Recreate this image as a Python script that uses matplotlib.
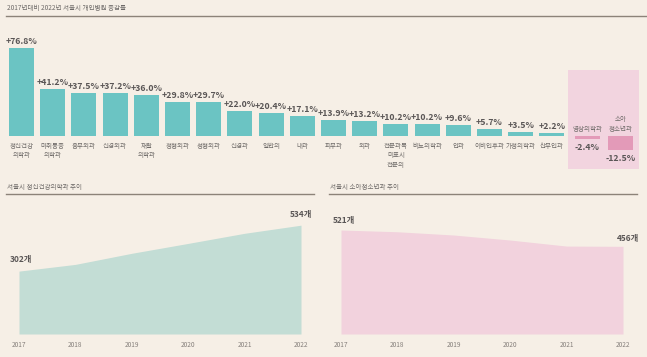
import numpy as np
import matplotlib
matplotlib.use("Agg")
import matplotlib.pyplot as plt
from matplotlib.patches import Rectangle

plt.rcParams['font.family'] = ['Noto Sans CJK KR', 'DejaVu Sans']

# ---------------- data ----------------
categories = ["정신건강\n의학과", "마취통증\n의학과", "흉부외과", "신경외과", "재활\n의학과",
              "정형외과", "성형외과", "신경과", "일반의", "내과", "피부과", "외과",
              "전문과목\n미표시\n전문의", "비뇨의학과", "안과", "이비인후과", "가정의학과",
              "산부인과", "영상의학과", "소아\n청소년과"]
change_pct = [76.8, 41.2, 37.5, 37.2, 36.0, 29.8, 29.7, 22.0, 20.4, 17.1, 13.9, 13.2,
              10.2, 10.2, 9.6, 5.7, 3.5, 2.2, -2.4, -12.5]

years = [2017, 2018, 2019, 2020, 2021, 2022]
psych_counts = [302, 336, 392, 442, 493, 534]
peds_counts = [521, 514, 501, 481, 457, 456]

title_main = "2017년대비 2022년 서울시 개인병원 증감률"
title_left = "서울시 정신건강의학과 추이"
title_right = "서울시 소아청소년과 추이"
unit = "개"

# ---------------- style ----------------
W, H = 647, 357
BG = "#F6EFE6"
TEAL = "#6BC4C3"
PINK_BAR = "#E39AB8"
PINK_BOX = "#F2D4DF"
LINE = "#8C8379"
TXT_DARK = "#5A5656"
TXT = "#6E6A68"

fig = plt.figure(figsize=(W / 100, H / 100), dpi=100, facecolor=BG)


def ax_px(x0, y0, x1, y1):
    return fig.add_axes([x0 / W, 1 - y1 / H, (x1 - x0) / W, (y1 - y0) / H])


def hline(x0, x1, y):
    fig.add_artist(plt.Line2D([x0 / W, x1 / W], [1 - y / H, 1 - y / H],
                              color=LINE, lw=1.0, transform=fig.transFigure))


# titles and rules
fig.text(7 / W, 1 - 8 / H, title_main, fontsize=4.7, color=TXT, va='center', ha='left')
hline(6, 647, 16)
fig.text(7 / W, 1 - 186.5 / H, title_left, fontsize=4.7, color=TXT, va='center', ha='left')
hline(6, 314, 194)
fig.text(330 / W, 1 - 186.5 / H, title_right, fontsize=4.7, color=TXT, va='center', ha='left')
hline(329, 637, 194)

# ---------------- bar chart ----------------
step = 31.2
x0c = 21.5
base_px = 136
pxu = 1.146
top_px, bot_px = 20, 178
axb = ax_px(0, top_px, W, bot_px)
axb.set_xlim(-x0c / step, (W - x0c) / step)
axb.set_ylim((base_px - bot_px) / pxu, (base_px - top_px) / pxu)
axb.axis('off')
axb.patch.set_alpha(0)

n_pos = sum(1 for v in change_pct if v >= 0)
pos = list(np.arange(n_pos, dtype=float)) + [18.13, 19.2]

# highlight box for negative group
axb.add_patch(Rectangle(((568 - x0c) / step, (base_px - 169) / pxu),
                        (639 - 568) / step, (169 - 70) / pxu,
                        facecolor=PINK_BOX, edgecolor='none', zorder=0))

colors = [TEAL if v >= 0 else PINK_BAR for v in change_pct]
axb.bar(pos, change_pct, width=0.8, color=colors, zorder=2)

for x, v, c in zip(pos, change_pct, categories):
    lab = f"{v:+.1f}%"
    if v >= 0:
        axb.annotate(lab, (x, v), xytext=(0, 1.5), textcoords='offset points',
                     ha='center', va='bottom', fontsize=6.3, fontweight='bold', color=TXT_DARK)
        axb.annotate(c, (x, 0), xytext=(0, -4.2), textcoords='offset points',
                     ha='center', va='top', fontsize=4.7, color=TXT, linespacing=1.25)
    else:
        axb.annotate(lab, (x, v), xytext=(0, -3.0), textcoords='offset points',
                     ha='center', va='top', fontsize=6.3, fontweight='bold', color=TXT_DARK)
        axb.annotate(c, (x, 0), xytext=(0, 2.5), textcoords='offset points',
                     ha='center', va='bottom', fontsize=4.7, color=TXT, linespacing=1.25)

# ---------------- area charts ----------------
def area(ax, vals, lo, hi, color, lab_first, lab_last):
    ax.set_xlim(years[0], years[-1])
    ax.set_ylim(lo, hi)
    ax.fill_between(years, vals, lo, color=color, lw=0)
    for s in ax.spines.values():
        s.set_visible(False)
    ax.patch.set_alpha(0)
    ax.set_yticks([])
    ax.set_xticks(years)
    ax.set_xticklabels([str(y) for y in years])
    ax.tick_params(axis='x', length=0, pad=5, labelsize=4.7, labelcolor="#86807C")
    ax.annotate(f"{vals[0]}{unit}", (years[0], vals[0]), xytext=lab_first[0:2],
                textcoords='offset points', ha='left', va='bottom',
                fontsize=6, fontweight='bold', color=TXT_DARK)
    ax.annotate(f"{vals[-1]}{unit}", (years[-1], vals[-1]), xytext=lab_last[0:2],
                textcoords='offset points', ha='right', va='bottom',
                fontsize=6, fontweight='bold', color=TXT_DARK)


axl = ax_px(19, 200, 301, 334)
area(axl, psych_counts, -15.6, -15.6 + 134 / 0.198, "#C3DDD5", (-6.5, 5), (8, 4.5))

axr = ax_px(341, 200, 623, 334)
area(axr, peds_counts, 107, 107 + 134 / 0.2512, "#F2D2DD", (-6, 3.6), (11.5, 2.3))

fig.savefig("out.png", dpi=100, facecolor=BG)
